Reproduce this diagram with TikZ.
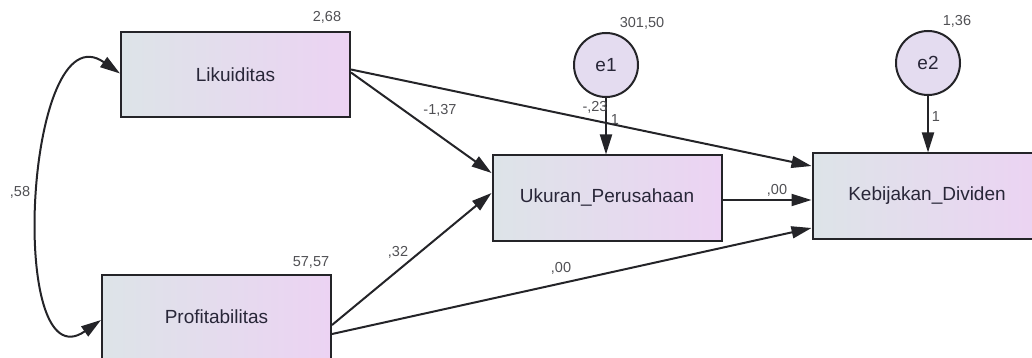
\documentclass[tikz,border=0pt]{standalone}
\usepackage{fontspec}
\setmainfont{Liberation Sans}
\usetikzlibrary{arrows.meta}

\definecolor{boxleft}{RGB}{221,228,232}
\definecolor{boxright}{RGB}{236,211,243}
\definecolor{errfill}{RGB}{228,220,240}
\definecolor{linegray}{RGB}{36,36,40}
\definecolor{textdark}{RGB}{40,38,56}
\definecolor{numgray}{RGB}{80,80,84}

\begin{document}
\begin{tikzpicture}[x=1pt,y=1pt,yscale=-1,xscale=1,
  varbox/.style={draw=linegray,line width=2pt,left color=boxleft,right color=boxright,
    minimum width=229pt,minimum height=85pt,inner sep=0pt,text=textdark,
    font=\fontsize{19}{23}\selectfont},
  errnode/.style={circle,draw=linegray,line width=2pt,fill=errfill,minimum size=64pt,
    inner sep=0pt,text=textdark,font=\fontsize{19}{23}\selectfont},
  path/.style={draw=linegray,line width=2pt,-{Triangle[length=20pt,width=12pt]}},
  est/.style={text=numgray,inner sep=0pt,font=\fontsize{14.5}{17}\selectfont}]
\useasboundingbox (0,0) rectangle (1032,358);

%Shape: Rectangles (observed variables)
\node [varbox] (lik) at (235.5,74.5) {Likuiditas};
\node [varbox] (prof) at (216.5,317) {Profitabilitas};
\node [varbox] (uk) at (607,198) {Ukuran\_Perusahaan};
\node [varbox] (keb) at (927,196) {Kebijakan\_Dividen};

%Shape: Circles (errors)
\node [errnode] (e1) at (606,65) {e1};
\node [errnode] (e2) at (928,63) {e2};

%Straight Lines (regression paths)
\draw [path] ([yshift=-5pt]lik.east) -- ([yshift=-30pt]keb.west);
\draw [path] ([yshift=-2pt]lik.east) -- ([yshift=-25pt]uk.west);
\draw [path] ([yshift=8pt]prof.east) -- ([yshift=-5pt]uk.west);
\draw [path] ([yshift=17pt]prof.east) -- ([yshift=32pt]keb.west);
\draw [path] ([yshift=2pt]uk.east) -- ([yshift=2pt]uk.east -| keb.west);
\draw [path] (e1) -- (e1 |- uk.north);
\draw [path] (e2) -- (e2 |- keb.north);

%Curve Lines (covariance)
\draw [draw=linegray,line width=2pt,{Triangle[length=20pt,width=12pt]}-{Triangle[length=20pt,width=12pt]}]
  ([yshift=-1pt]lik.west) to[out=215,in=145,looseness=1.2] ([yshift=3pt]prof.west);

% Text Node
\node [est] (vlik) at (327,17) {2,68};
\node [est] (vprof) at (311,262) {57,57};
\node [est] (ve1) at (642,23) {301,50};
\node [est] (ve2) at (957,21) {1,36};
\node [est] (wlikuk) at (440,110) {-1,37};
\node [est] (wlikkeb) at (595,107) {-,23};
\node [est] (we1) at (615,120) {1};
\node [est] (we2) at (936,117) {1};
\node [est] (wukkeb) at (777,190) {,00};
\node [est] (wprofuk) at (398,252) {,32};
\node [est] (wprofkeb) at (561,268) {,00};
\node [est] (cov) at (20,192) {,58};

\end{tikzpicture}
\end{document}
